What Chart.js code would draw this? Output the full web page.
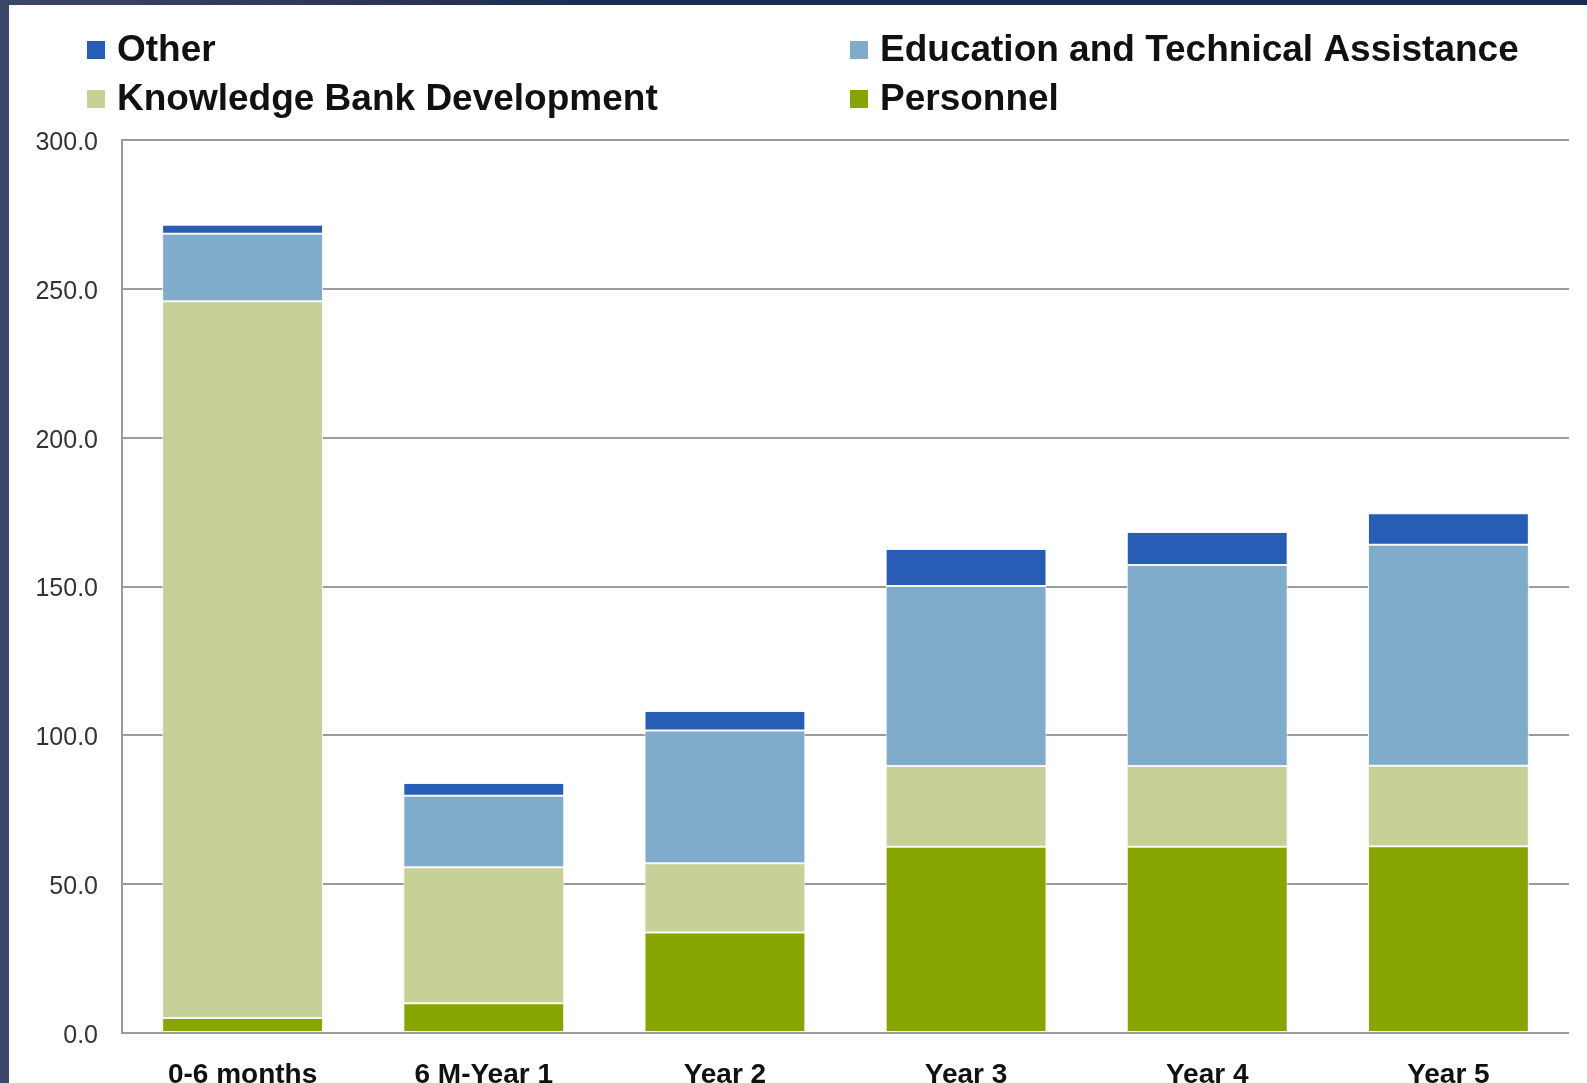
<!DOCTYPE html>
<html>
<head>
<meta charset="utf-8">
<title>Budget by period</title>
<script src="https://cdn.jsdelivr.net/npm/chart.js@4.4.1/dist/chart.umd.min.js"></script>
<style>
    html, body {
        margin: 0;
        padding: 0;
        width: 1587px;
        height: 1083px;
        overflow: hidden;
        background: linear-gradient(90deg, #3a4768 0%, #1d2a4f 40%, #1d2a4f 100%);
    }
    #panel {
        position: absolute;
        left: 9px;
        top: 5px;
        width: 1578px;
        height: 1078px;
        background: #ffffff;
    }
</style>
</head>
<body>
<div id="panel">
    <canvas id="budgetChart"></canvas>
</div>
<script>
// Categories on the x axis
const periods = ['0-6 months', '6 M-Year 1', 'Year 2', 'Year 3', 'Year 4', 'Year 5'];

// Series values (stacked bottom to top)
const personnel = [5.0, 10.0, 33.8, 62.6, 62.6, 62.7];
const knowledgeBank = [240.8, 45.7, 23.2, 27.1, 27.1, 27.1];
const education = [22.7, 24.0, 44.6, 60.5, 67.5, 74.2];
const other = [3.0, 4.3, 6.6, 12.4, 11.1, 10.6];

// Y axis ticks
const yTicks = [0, 50, 100, 150, 200, 250, 300];

// Legend layout order: two columns, two rows
const legendOrder = ['Other', 'Education and Technical Assistance', 'Knowledge Bank Development', 'Personnel'];

document.addEventListener('DOMContentLoaded', function() {
    const canvas = document.getElementById('budgetChart');

    // Draws the two-column legend above the plot
    const gridLegend = {
        id: 'gridLegend',
        afterDraw: function(chart) {
            const ctx = chart.ctx;
            const colX = [78, 841];
            const rowY = [45, 94];
            ctx.save();
            ctx.font = 'bold 37px "Liberation Sans", Arial, sans-serif';
            ctx.textBaseline = 'middle';
            ctx.textAlign = 'left';
            legendOrder.forEach(function(label, i) {
                const ds = chart.data.datasets.find(function(d) { return d.label === label; });
                const x = colX[i % 2];
                const y = rowY[Math.floor(i / 2)];
                ctx.fillStyle = ds.backgroundColor;
                ctx.fillRect(x, y - 9, 18, 18);
                ctx.fillStyle = '#111111';
                ctx.fillText(label, x + 30, y + 1);
            });
            ctx.restore();
        }
    };

    function makeDataset(label, data, color) {
        return {
            label: label,
            data: data,
            backgroundColor: color,
            borderColor: '#f6f6f6',
            borderWidth: 1,
            borderSkipped: false,
            barPercentage: 0.667,
            categoryPercentage: 1.0
        };
    }

    new Chart(canvas, {
        type: 'bar',
        data: {
            labels: periods,
            datasets: [
                makeDataset('Personnel', personnel, '#87a500'),
                makeDataset('Knowledge Bank Development', knowledgeBank, '#c6d197'),
                makeDataset('Education and Technical Assistance', education, '#81abcb'),
                makeDataset('Other', other, '#275db5')
            ]
        },
        options: {
            responsive: true,
            maintainAspectRatio: false,
            animation: false,
            layout: {
                padding: { top: 135, right: 18, left: 0, bottom: 0 }
            },
            plugins: {
                legend: { display: false },
                tooltip: { enabled: false }
            },
            scales: {
                x: {
                    stacked: true,
                    grid: { display: false },
                    border: { display: false },
                    ticks: {
                        color: '#111111',
                        padding: 17,
                        font: { family: '"Liberation Sans", Arial, sans-serif', size: 28, weight: 'bold' }
                    },
                    afterFit: function(scale) { scale.height = 50; }
                },
                y: {
                    stacked: true,
                    min: yTicks[0],
                    max: yTicks[yTicks.length - 1],
                    afterBuildTicks: function(scale) {
                        scale.ticks = yTicks.map(function(v) { return { value: v }; });
                    },
                    grid: {
                        color: '#9a9a9a',
                        lineWidth: 2,
                        drawTicks: false
                    },
                    border: { display: true, color: '#9a9a9a', width: 2 },
                    ticks: {
                        color: '#333333',
                        padding: 24,
                        labelOffset: 3,
                        font: { family: '"Liberation Sans", Arial, sans-serif', size: 25 },
                        callback: function(value) { return Number(value).toFixed(1); }
                    },
                    afterFit: function(scale) { scale.width = 113; }
                }
            }
        },
        plugins: [gridLegend]
    });
});
</script>
</body>
</html>
